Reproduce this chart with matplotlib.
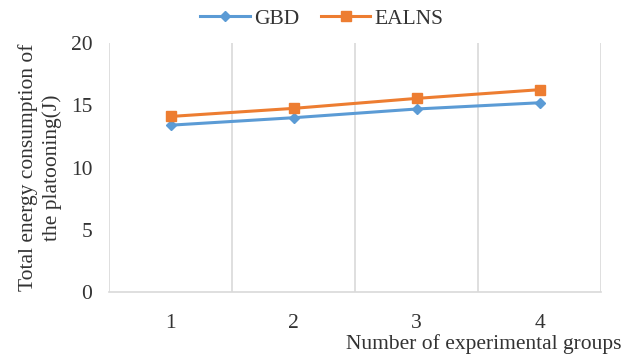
import matplotlib
matplotlib.use('Agg')
import matplotlib.pyplot as plt

groups = [1, 2, 3, 4]
gbd = [13.4, 14.0, 14.7, 15.2]
ealns = [14.1, 14.75, 15.55, 16.25]

plt.rcParams['font.family'] = ['Liberation Serif', 'DejaVu Serif']

fig = plt.figure(figsize=(6.23, 3.58), dpi=100)
ax = fig.add_axes([0.175, 0.184, 0.79, 0.696])

ax.plot(groups, gbd, color='#5B9BD5', marker='D', markersize=5, linewidth=2.2, label='GBD')
ax.plot(groups, ealns, color='#ED7D31', marker='s', markersize=7, linewidth=2.2, label='EALNS')

ax.set_xlim(0.5, 4.5)
ax.set_ylim(0, 20)
ax.set_yticks([0, 5, 10, 15, 20])
ax.set_xticks(groups)
ax.set_xticks([0.5, 1.5, 2.5, 3.5, 4.5], minor=True)
ax.grid(True, which='minor', axis='x', color='#D9D9D9', linewidth=1.2)
ax.tick_params(which='both', length=0, labelsize=15.5, labelcolor='#333333')
ax.tick_params(axis='x', pad=16)
ax.tick_params(axis='y', pad=12)

for s in ['top', 'left', 'right']:
    ax.spines[s].set_visible(False)
ax.spines['bottom'].set_color('#D9D9D9')
ax.spines['bottom'].set_linewidth(1.2)

ax.set_ylabel('Total energy consumption of\nthe platooning(J)', fontsize=15.5, linespacing=1.3,
              labelpad=6, color='#333333')
fig.text(0.998, 0.012, 'Number of experimental groups', ha='right', va='bottom', fontsize=15.5,
         color='#333333')

leg = fig.legend(loc='upper center', bbox_to_anchor=(0.517, 1.03), ncol=2, frameon=False,
                 fontsize=15.5, handlelength=2.3, handletextpad=0.2, columnspacing=1.0)
for t in leg.get_texts():
    t.set_color('#333333')

fig.savefig('out.png', dpi=100)
